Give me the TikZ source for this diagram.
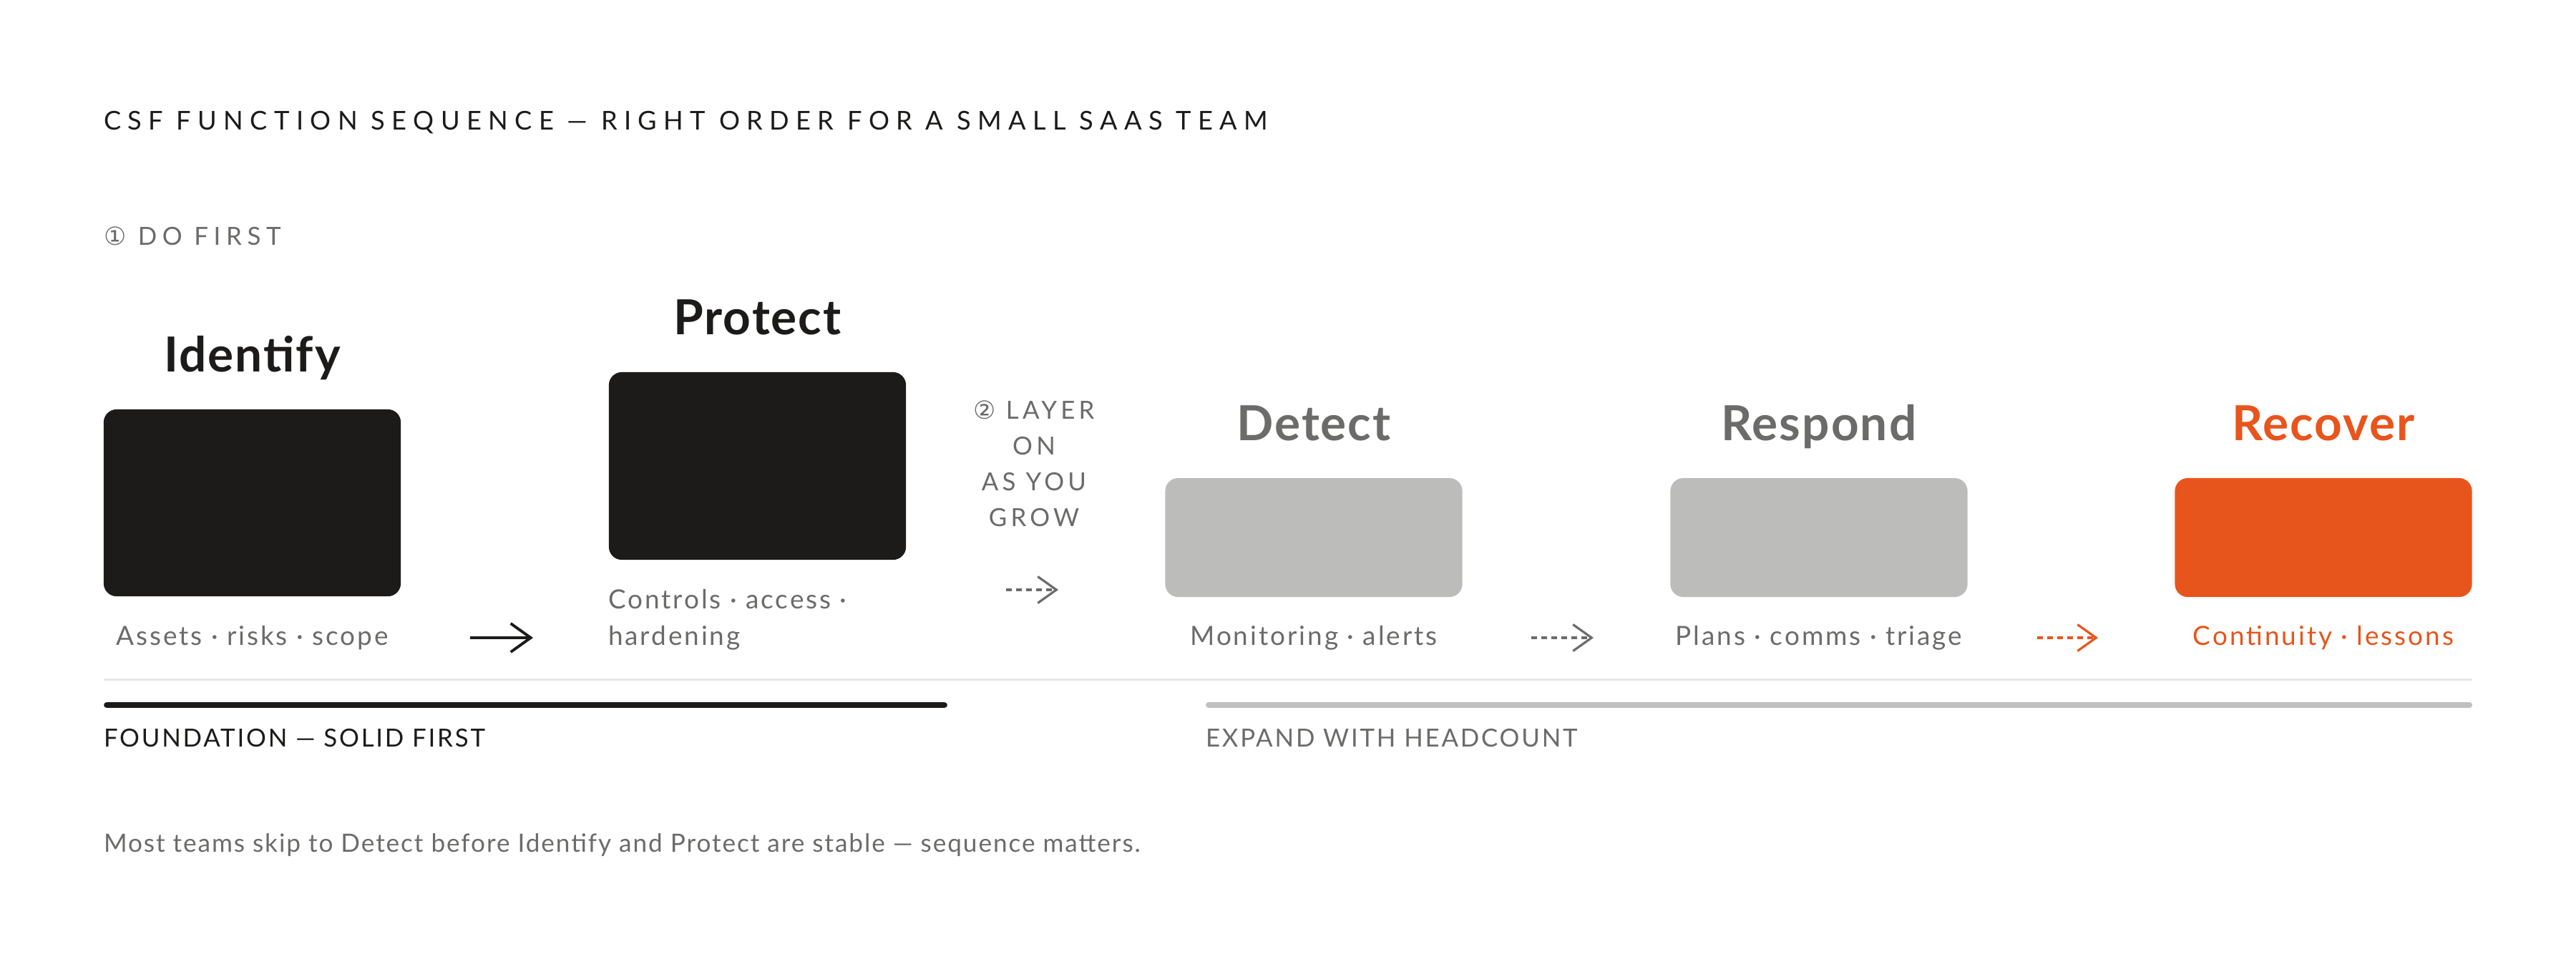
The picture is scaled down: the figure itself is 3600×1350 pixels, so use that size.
\documentclass[tikz,border=0pt]{standalone}
\usepackage{fontspec}
\setmainfont{Lato}
\newfontfamily\symfont{DejaVu Sans}
\usetikzlibrary{arrows.meta,positioning}
\definecolor{ink}{HTML}{1C1B19}
\definecolor{mute}{HTML}{6B6B69}
\definecolor{pale}{HTML}{BCBCBA}
\definecolor{rust}{HTML}{E8551C}
\definecolor{rulegray}{HTML}{E6E6E6}
\definecolor{bargray}{HTML}{C0C0C0}

\begin{document}
\begin{tikzpicture}[x=0.01cm, y=-0.01cm,
        every node/.append style={inner sep=0pt, outer sep=0pt},
        solidtip/.style={-{Straight Barb[length=0.28cm,width=0.40cm,line width=1.1pt]}},
        dashtip/.style={-{Straight Barb[length=0.26cm,width=0.37cm,line width=0.9pt]}}]
      \tikzstyle{card} = [rounded corners=0.18cm, minimum width=4.15cm]
      \tikzstyle{head} = [font=\fontsize{19.2}{22}\selectfont\bfseries\addfontfeature{LetterSpace=3}, anchor=base]
      \tikzstyle{note} = [font=\fontsize{10.5}{14.5}\selectfont\addfontfeature{LetterSpace=8}, text=mute, anchor=base]
      \tikzstyle{caps} = [font=\fontsize{10.3}{12}\selectfont\addfontfeature{LetterSpace=26}, anchor=base west]
      \tikzstyle{flow} = [dashtip, line width=0.9pt, dash pattern=on 0.08cm off 0.06cm]
      \fill[white] (0,0) rectangle (3600,1350);
      \useasboundingbox (0,0) rectangle (3600,1350);
      \node (title) [caps, text=ink] at (145,181) {CSF FUNCTION SEQUENCE — RIGHT ORDER FOR A SMALL SAAS TEAM};
      \node (first) [caps, text=mute, font=\fontsize{9.9}{12}\selectfont\addfontfeature{LetterSpace=22}] at (145,342) {{\symfont ①} DO FIRST};
      \node (Identify) [card, fill=ink, minimum height=2.61cm] at (352.5,702.5) {};
      \node (Protect) [card, fill=ink, minimum height=2.62cm] at (1058.5,651) {};
      \node (Detect) [card, fill=pale, minimum height=1.66cm] at (1836,751) {};
      \node (Respond) [card, fill=pale, minimum height=1.66cm] at (2542,751) {};
      \node (Recover) [card, fill=rust, minimum height=1.66cm] at (3247,751) {};
      \node (IdentifyHead) [head, text=ink] at (352.5,519) {Identify};
      \node (ProtectHead) [head, text=ink] at (1058.5,467) {Protect};
      \node (DetectHead) [head, text=mute] at (1836,615) {Detect};
      \node (RespondHead) [head, text=mute] at (2542,615) {Respond};
      \node (RecoverHead) [head, text=rust] at (3247,615) {Recover};
      \node (IdentifyNote) [note] at (352.5,901) {Assets · risks · scope};
      \node (ProtectNote) [note, anchor=base west, align=left] at (850,901) {Controls · access ·\\hardening};
      \node (DetectNote) [note] at (1836,901) {Monitoring · alerts};
      \node (RespondNote) [note] at (2542,901) {Plans · comms · triage};
      \node (RecoverNote) [note, text=rust] at (3247,901) {Continuity · lessons};
      \node (layer) [note, align=center, font=\fontsize{9.9}{14.2}\selectfont\addfontfeature{LetterSpace=15}] at (1445,735) {{\symfont ②} LAYER\\ON\\AS YOU\\GROW};
      \coordinate (s1) at (657,891);
      \coordinate (e1) at (745,891);
      \coordinate (s2) at (1406,824);
      \coordinate (e2) at (1479,824);
      \coordinate (s3) at (2140,891);
      \coordinate (e3) at (2227,891);
      \coordinate (s4) at (2847,891);
      \coordinate (e4) at (2932,891);
      \draw[solidtip, line width=1.1pt, ink] (s1) -- (e1);
      \draw[flow, mute] (s2) -- (e2);
      \draw[flow, mute] (s3) -- (e3);
      \draw[flow, rust] (s4) -- (e4);
      \coordinate (r1) at (145,949);
      \coordinate (r2) at (3455,949);
      \draw[rulegray, line width=0.85pt] (r1) -- (r2);
      \coordinate (f1) at (149.5,985);
      \coordinate (f2) at (1319.5,985);
      \coordinate (g1) at (1689,985);
      \coordinate (g2) at (3451,985);
      \draw[ink, line width=2.5pt, line cap=round] (f1) -- (f2);
      \draw[bargray, line width=2.3pt, line cap=round] (g1) -- (g2);
      \node (foundation) [caps, text=ink, font=\fontsize{9.9}{12}\selectfont\addfontfeature{LetterSpace=8}] at (145,1043) {FOUNDATION — SOLID FIRST};
      \node (expand) [caps, text=mute, font=\fontsize{9.9}{12}\selectfont\addfontfeature{LetterSpace=8}] at (1685,1043) {EXPAND WITH HEADCOUNT};
      \node (footnote) [anchor=base west, text=mute, font=\fontsize{10}{12}\selectfont\addfontfeature{LetterSpace=5.5}] at (145,1190) {Most teams skip to Detect before Identify and Protect are stable — sequence matters.};
    \end{tikzpicture}
\end{document}
